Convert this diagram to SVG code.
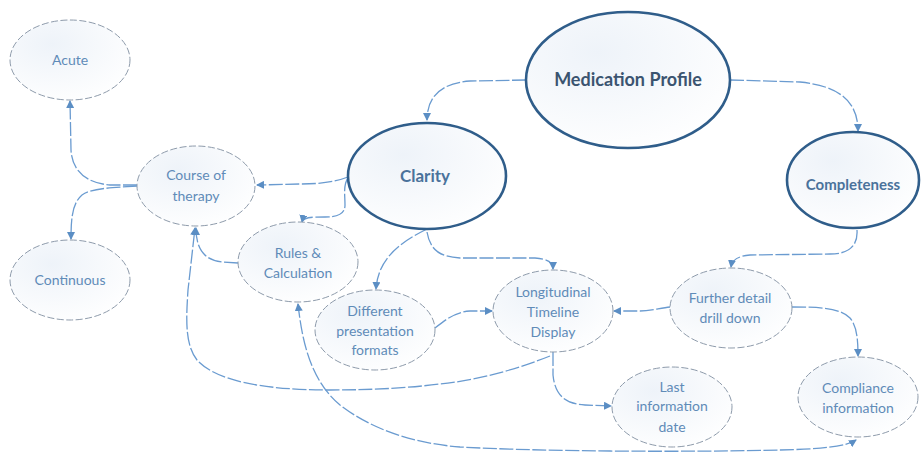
<svg xmlns="http://www.w3.org/2000/svg" width="922" height="453" viewBox="0 0 922 453">
<defs>
<radialGradient id="fillG" cx="0.35" cy="0.3" r="0.8">
<stop offset="0" stop-color="#eef3f9"/>
<stop offset="1" stop-color="#ffffff"/>
</radialGradient>
<marker id="arr" viewBox="0 0 8 8" refX="7" refY="4" markerWidth="8" markerHeight="8" markerUnits="userSpaceOnUse" orient="auto-start-reverse">
<path d="M0,0 L8,4 L0,8 z" fill="#5b8ec4"/>
</marker>
<style>
.sm{fill:url(#fillG);stroke:#8e9bab;stroke-width:1;stroke-dasharray:7 2.5}
.big{fill:url(#fillG);stroke:#2f5d8a;stroke-width:2.6}
.t{font-family:Lato,"Open Sans","Liberation Sans",sans-serif;font-size:14px;fill:#5f8bb8;text-anchor:middle}
.tb{font-family:Lato,"Open Sans","Liberation Sans",sans-serif;font-weight:bold;fill:#4a729b;text-anchor:middle}
.c{fill:none;stroke:#6a9bd0;stroke-width:1.3;stroke-dasharray:14 2.5;marker-end:url(#arr)}
</style>
</defs>
<rect width="922" height="453" fill="#ffffff"/>
<g id="connectors">
<path class="c" d="M526,80 L470,81 C442,83 427,96 427,120"/>
<path class="c" d="M730,80 L800,82 C840,86 858,102 858,131"/>
<path class="c" d="M348,177 C335,182 320,184 300,184 L257,185"/>
<path class="c" d="M348,178 C343,185 345,195 345,205 C345,214 338,217 325,217 C312,217 303,217 302,222"/>
<path class="c" d="M137,185 L110,185 C85,183 72,170 71,150 L70,101"/>
<path class="c" d="M137,186 C110,188 92,188 82,195 C73,203 71,215 71,239"/>
<path class="c" d="M238,263 L222,262 C205,260 196,250 196,228"/>
<path class="c" d="M427,229 C405,240 378,256 376,289"/>
<path class="c" d="M427,232 C430,250 440,257 460,258 L535,258 C548,259 553,262 553,269"/>
<path class="c" d="M435,328 C445,320 455,312 470,311 L492,311"/>
<path class="c" d="M670,307 C660,308 650,311 640,311 L614,311"/>
<path class="c" d="M857,230 C858,245 850,254 830,254 L750,255 C738,256 732,260 731,267"/>
<path class="c" d="M792,307 C820,307 840,308 850,318 C857,326 858,340 858,356"/>
<path class="c" d="M553,352 L553,375 C555,395 565,404 585,405 L611,406"/>
<path class="c" d="M550,356 C520,368 480,380 440,384 C400,389 360,390 330,390 C260,390 215,380 197,360 C185,345 186,320 188,290 L195,228"/>
<path class="c" style="marker-start:url(#arr)" d="M298,304 C302,340 310,380 340,405 C370,428 410,443 460,447 C550,452 700,452 780,450 C820,449 845,447 856,440"/>
</g>
<g id="acute">
<ellipse class="sm" cx="70" cy="60" rx="60" ry="40"/>
<text class="t" x="70" y="65">Acute</text>
</g>
<g id="continuous">
<ellipse class="sm" cx="70" cy="280" rx="60" ry="40"/>
<text class="t" x="70" y="285">Continuous</text>
</g>
<g id="course">
<ellipse class="sm" cx="196" cy="186" rx="59" ry="40"/>
<text class="t" x="196" y="180">Course of</text>
<text class="t" x="196" y="201">therapy</text>
</g>
<g id="medication">
<ellipse class="big" cx="628" cy="80" rx="102" ry="68"/>
<text class="tb" x="628" y="86" font-size="18" style="fill:#3b5470">Medication Profile</text>
</g>
<g id="clarity">
<ellipse class="big" cx="427" cy="176" rx="79" ry="53"/>
<text class="tb" x="425" y="182" font-size="17">Clarity</text>
</g>
<g id="completeness">
<ellipse class="big" cx="853" cy="180" rx="66" ry="48"/>
<text class="tb" x="853" y="190" font-size="15">Completeness</text>
</g>
<g id="rules">
<ellipse class="sm" cx="298" cy="262" rx="60" ry="40"/>
<text class="t" x="298" y="258">Rules &amp;</text>
<text class="t" x="298" y="278">Calculation</text>
</g>
<g id="different">
<ellipse class="sm" cx="375" cy="330" rx="60" ry="40"/>
<text class="t" x="375" y="316">Different</text>
<text class="t" x="375" y="336">presentation</text>
<text class="t" x="375" y="355">formats</text>
</g>
<g id="longitudinal">
<ellipse class="sm" cx="553" cy="311" rx="60" ry="41"/>
<text class="t" x="553" y="297">Longitudinal</text>
<text class="t" x="553" y="317">Timeline</text>
<text class="t" x="553" y="337">Display</text>
</g>
<g id="further">
<ellipse class="sm" cx="731" cy="308" rx="61" ry="40"/>
<text class="t" x="730" y="303">Further detail</text>
<text class="t" x="730" y="323">drill down</text>
</g>
<g id="last">
<ellipse class="sm" cx="672" cy="407" rx="60" ry="40"/>
<text class="t" x="672" y="392">Last</text>
<text class="t" x="672" y="411">information</text>
<text class="t" x="672" y="432">date</text>
</g>
<g id="compliance">
<ellipse class="sm" cx="858" cy="397" rx="60" ry="40"/>
<text class="t" x="858" y="393">Compliance</text>
<text class="t" x="858" y="413">information</text>
</g>
</svg>
